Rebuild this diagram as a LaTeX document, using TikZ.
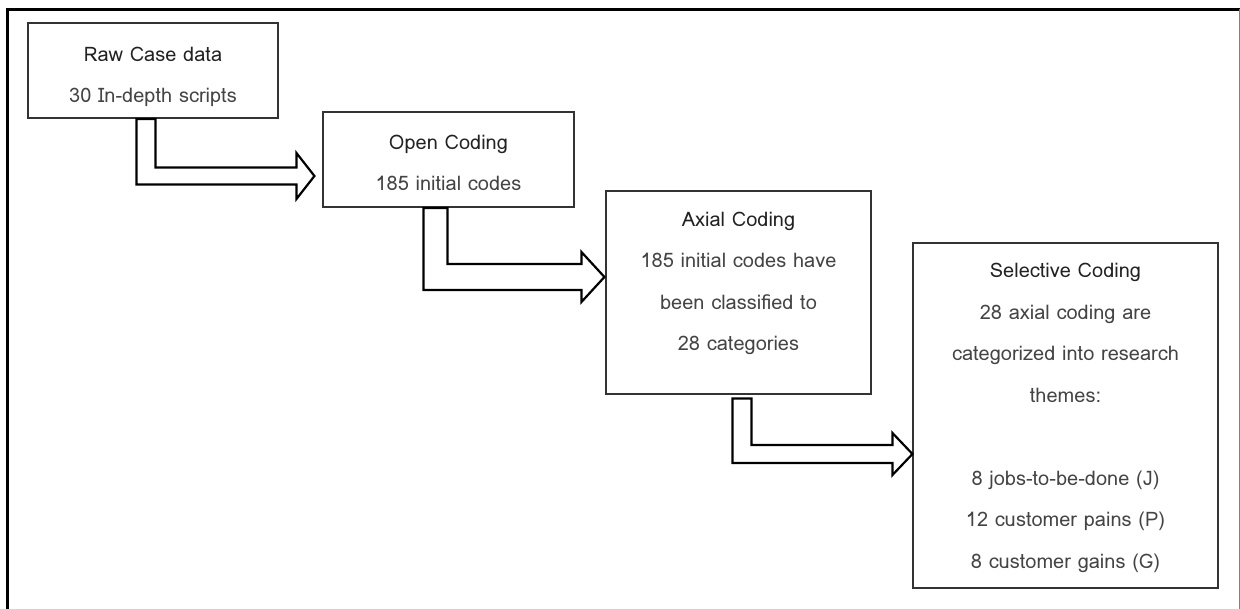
\documentclass[tikz,border=0pt]{standalone}
\usepackage{fontspec}
\setmainfont{Loma}
\usetikzlibrary{calc}
\definecolor{boxline}{HTML}{333333}
\definecolor{titlecol}{HTML}{222222}
\definecolor{bodycol}{HTML}{444444}
\tikzset{
  box/.style={draw=boxline, line width=1.1pt, rectangle, inner sep=0pt},
  txt/.style={anchor=base, align=center, inner sep=0pt, text=bodycol,
              font=\fontsize{20}{41.5}\selectfont},
  arr/.style={draw=black, line width=2.2pt, line join=miter, fill=white},
}
\newcommand\bentarr[6]{% start, tip, stem width, shaft half, head half, head length
  \draw[arr] let \p1=(#1), \p2=(#2) in
    (\x1,\y1) -- (\x1,{\y2-#4pt}) -- ({\x2-#6pt},{\y2-#4pt}) -- ({\x2-#6pt},{\y2-#5pt})
    -- (\x2,\y2) -- ({\x2-#6pt},{\y2+#5pt}) -- ({\x2-#6pt},{\y2+#4pt})
    -- ({\x1+#3pt},{\y2+#4pt}) -- ({\x1+#3pt},\y1) -- cycle;}
\begin{document}
\begin{tikzpicture}[x=1pt,y=-1pt]
\useasboundingbox (0,0) rectangle (1240,609);
% frame (open at bottom)
\draw[black, line width=3pt] (6,9.5) -- (1239.5,9.5);
\draw[black, line width=2.5pt] (7.5,8) -- (7.5,609);
\draw[gray, line width=1pt] (1239,9) -- (1239,609);
% boxes
\node[box, minimum width=250pt, minimum height=95pt] (b1) at (153,70.5) {};
\node[box, minimum width=251pt, minimum height=95pt] (b2) at (448.5,159.5) {};
\node[box, minimum width=265pt, minimum height=203pt] (b3) at (738.5,292.5) {};
\node[box, minimum width=305pt, minimum height=345pt] (b4) at (1065.5,415.5) {};
% texts (anchor = baseline of last line)
\node[txt] (t1) at (153,103) {\textcolor{titlecol}{Raw Case data}\\30 In-depth scripts};
\node[txt] (t2) at (448.5,191) {\textcolor{titlecol}{Open Coding}\\185 initial codes};
\node[txt] (t3) at (738.5,351) {\textcolor{titlecol}{Axial Coding}\\185 initial codes have\\been classified to\\28 categories};
\node[txt] (t4) at (1065.5,568) {\textcolor{titlecol}{Selective Coding}\\28 axial coding are\\categorized into research\\themes:\\[41.5pt]8 jobs-to-be-done (J)\\12 customer pains (P)\\8 customer gains (G)};
% arrow anchor points
\coordinate (a1s) at ($(b1.south west)+(109,0.5)$);
\coordinate (a1t) at ($(b2.west)+(-8,16.5)$);
\coordinate (a2s) at ($(b2.south west)+(101,0.5)$);
\coordinate (a2t) at ($(b3.west)+(-1,-15.5)$);
\coordinate (a3s) at ($(b3.south west)+(127,4)$);
\coordinate (a3t) at ($(b4.west)+(0,38.5)$);
\bentarr{a1s}{a1t}{19}{8.5}{23}{18}
\bentarr{a2s}{a2t}{24}{13}{25}{23}
\bentarr{a3s}{a3t}{19}{9}{21}{20}
\end{tikzpicture}
\end{document}
